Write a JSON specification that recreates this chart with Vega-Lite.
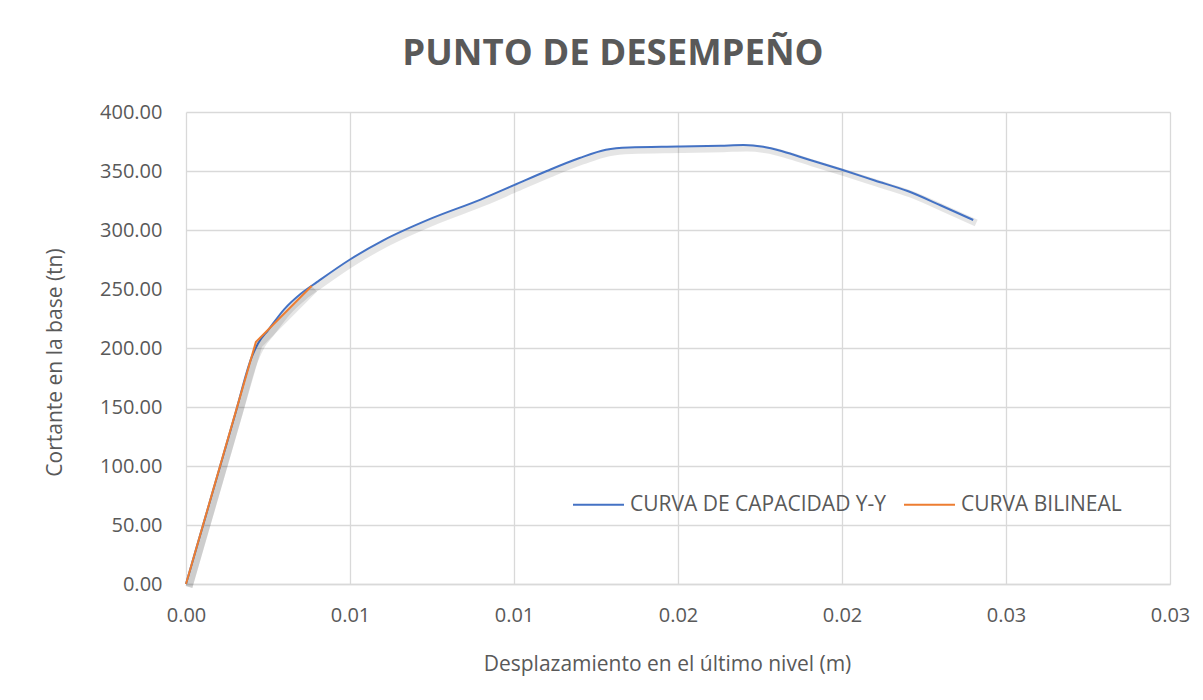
{
  "$schema": "https://vega.github.io/schema/vega-lite/v6.json",
  "width": 984,
  "height": 472,
  "autosize": {"type": "none"},
  "padding": {"left": 186, "top": 112, "right": 33, "bottom": 116},
  "background": "white",
  "title": {"text": "PUNTO DE DESEMPEÑO", "font": "Open Sans", "fontSize": 36.5, "fontWeight": "bold", "color": "#595959", "anchor": "middle", "dx": -65, "offset": 30},
  "datasets": {
    "cap": [
      {"d": 0, "v": 0}, {"d": 0.0005, "v": 48}, {"d": 0.001, "v": 96}, {"d": 0.0015, "v": 144},
      {"d": 0.002, "v": 192}, {"d": 0.0022, "v": 204}, {"d": 0.0025, "v": 215}, {"d": 0.003, "v": 233},
      {"d": 0.0035, "v": 246}, {"d": 0.004, "v": 256}, {"d": 0.005, "v": 275}, {"d": 0.006, "v": 291},
      {"d": 0.0075, "v": 310}, {"d": 0.009, "v": 326}, {"d": 0.01, "v": 338}, {"d": 0.011, "v": 350},
      {"d": 0.012, "v": 361}, {"d": 0.0128, "v": 368}, {"d": 0.0135, "v": 370}, {"d": 0.015, "v": 370.8},
      {"d": 0.0163, "v": 371.5}, {"d": 0.017, "v": 372}, {"d": 0.0176, "v": 370.5}, {"d": 0.0182, "v": 366.5},
      {"d": 0.019, "v": 359.5}, {"d": 0.02, "v": 351}, {"d": 0.021, "v": 342}, {"d": 0.022, "v": 333},
      {"d": 0.023, "v": 321}, {"d": 0.024, "v": 308.5}
    ],
    "bil": [
      {"d": 0, "v": 0}, {"d": 0.00213, "v": 205}, {"d": 0.00383, "v": 252.5}
    ]
  },
  "layer": [
    {
      "data": {"name": "cap"},
      "mark": {"type": "line", "interpolate": "monotone", "stroke": "#000", "strokeWidth": 7, "opacity": 0.1, "xOffset": 3, "yOffset": 3},
      "encoding": {"x": {"field": "d", "type": "quantitative"}, "y": {"field": "v", "type": "quantitative"}}
    },
    {
      "data": {"name": "cap"},
      "transform": [{"calculate": "'CURVA DE CAPACIDAD Y-Y'", "as": "s"}],
      "mark": {"type": "line", "interpolate": "monotone", "strokeWidth": 2},
      "encoding": {
        "x": {"field": "d", "type": "quantitative"},
        "y": {"field": "v", "type": "quantitative"},
        "color": {"field": "s", "type": "nominal"}
      }
    },
    {
      "data": {"name": "bil"},
      "mark": {"type": "line", "stroke": "#000", "strokeWidth": 7, "opacity": 0.1, "xOffset": 3, "yOffset": 3},
      "encoding": {"x": {"field": "d", "type": "quantitative"}, "y": {"field": "v", "type": "quantitative"}}
    },
    {
      "data": {"name": "bil"},
      "transform": [{"calculate": "'CURVA BILINEAL'", "as": "s"}],
      "mark": {"type": "line", "strokeWidth": 2},
      "encoding": {
        "x": {"field": "d", "type": "quantitative"},
        "y": {"field": "v", "type": "quantitative"},
        "color": {"field": "s", "type": "nominal"}
      }
    }
  ],
  "encoding": {
    "x": {
      "field": "d", "type": "quantitative",
      "scale": {"domain": [0, 0.03], "nice": false, "zero": true},
      "axis": {"title": "Desplazamiento en el último nivel (m)", "values": [0, 0.005, 0.01, 0.015, 0.02, 0.025, 0.03], "labelExpr": "datum.value < 0.001 ? '0.00' : datum.value < 0.012 ? '0.01' : datum.value < 0.022 ? '0.02' : '0.03'", "labelFlush": false, "labelPadding": 21, "titlePadding": 28, "titleX": 481}
    },
    "y": {
      "field": "v", "type": "quantitative",
      "scale": {"domain": [0, 400], "nice": false},
      "axis": {"title": "Cortante en la base (tn)", "values": [0, 50, 100, 150, 200, 250, 300, 350, 400], "format": ".2f", "labelPadding": 24, "titlePadding": 34, "titleY": 250, "domain": false, "labelFlush": false}
    },
    "color": {
      "field": "s", "type": "nominal",
      "scale": {"domain": ["CURVA DE CAPACIDAD Y-Y", "CURVA BILINEAL"], "range": ["#4472C4", "#ED7D31"]},
      "legend": {"title": null, "orient": "none", "direction": "horizontal", "legendX": 386, "legendY": 366, "symbolType": "stroke", "symbolSize": 2600, "symbolStrokeWidth": 2, "symbolOpacity": 1, "labelLimit": 400, "labelFontSize": 21, "labelColor": "#595959", "labelFont": "Open Sans", "columnPadding": 13, "labelOffset": 5}
    }
  },
  "config": {
    "view": {"stroke": null},
    "axis": {
      "labelFont": "Open Sans", "labelFontSize": 20, "labelColor": "#595959",
      "titleFont": "Open Sans", "titleFontSize": 21, "titleColor": "#595959", "titleFontWeight": "normal",
      "gridColor": "#d9d9d9", "gridWidth": 1.3, "ticks": false, "domainColor": "#d9d9d9", "domainWidth": 1.3
    }
  }
}
